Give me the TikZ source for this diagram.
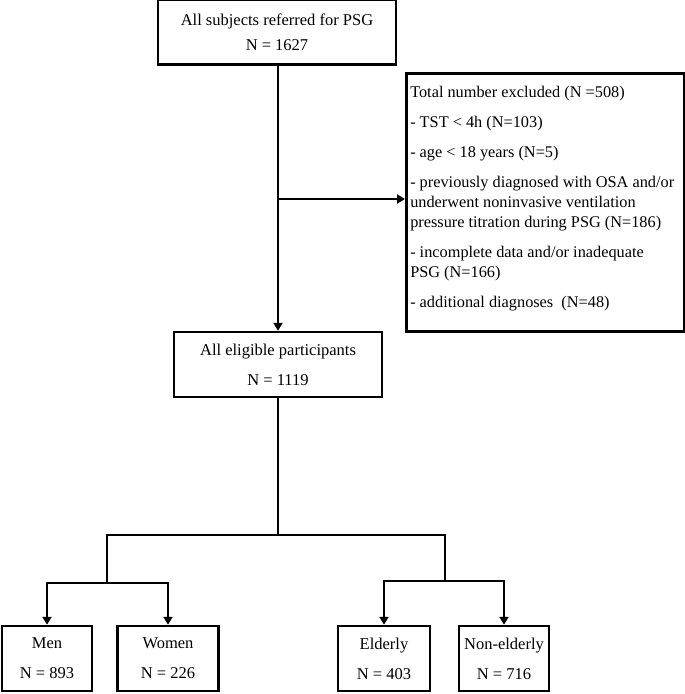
\documentclass[tikz,border=0pt]{standalone}
\usepackage{fontspec}
\setmainfont{Liberation Serif}
\usetikzlibrary{positioning,calc,arrows.meta}
\newcommand{\bnode}[4]{\node [box, minimum width=#3] (#1) at (#2) {#4}}

\begin{document}
\begin{tikzpicture}[x=1pt,y=-1pt,
  box/.style={draw, line width=2.5pt, align=center, inner sep=0pt, minimum height=65pt,
    font=\fontsize{16.5}{30}\selectfont},
  exclbox/.style={draw, line width=2.5pt, inner xsep=4pt, inner ysep=0pt,
    font=\fontsize{16.3}{20}\selectfont},
  link/.style={line width=2.5pt},
  arr/.style={link, -{Triangle[length=8pt,width=9pt]}}]
\useasboundingbox (0,0) rectangle (685,694);

\bnode{ALL}{277,32}{238pt}{All subjects referred for PSG\\[-5pt] N = 1627};
\bnode{ELIG}{278,364.5}{208pt}{All eligible participants\\ N = 1119};
\bnode{MEN}{47,658.5}{90pt}{Men\\ N = 893};
\bnode{WOMEN}{168,658.5}{101pt}{Women\\ N = 226};
\bnode{OLD}{384,658.5}{92pt}{Elderly\\ N = 403};
\bnode{YOUNG}{504,658.5}{90pt}{Non-elderly\\ N = 716};

\node [exclbox, anchor=north west] (EXC) at (405,72) {\parbox[t][258pt][t]{270pt}{%
  \raggedright\baselineskip=20pt \parskip=10pt
  \rule{0pt}{24pt}Total number excluded (N =508)\par
  - TST < 4h (N=103)\par
  - age < 18 years (N=5)\par
  - previously diagnosed with OSA and/or\\ underwent noninvasive ventilation\\ pressure titration during PSG (N=186)\par
  - incomplete data and/or inadequate\\ PSG (N=166)\par
  - additional diagnoses\ \ (N=48)\par}};

\coordinate (SPLIT) at (278,199);
\coordinate (FORK) at (278,535);
\coordinate (SEX) at (107,535);
\coordinate (AGE) at (445,535);
\coordinate (SEX1) at (107,583);
\coordinate (AGE1) at (445,581);

\draw[arr] (ALL.south -| ELIG) -- (ELIG);
\draw[arr] (SPLIT) -- (SPLIT -| EXC.west);
\draw[link] (ELIG) -- (FORK);
\draw[link] (SEX1) |- (AGE) -- (AGE1);
\draw[arr] (SEX1) -| (MEN);
\draw[arr] (SEX1) -| (WOMEN);
\draw[arr] (AGE1) -| (OLD);
\draw[arr] (AGE1) -| (YOUNG);

\end{tikzpicture}
\end{document}
